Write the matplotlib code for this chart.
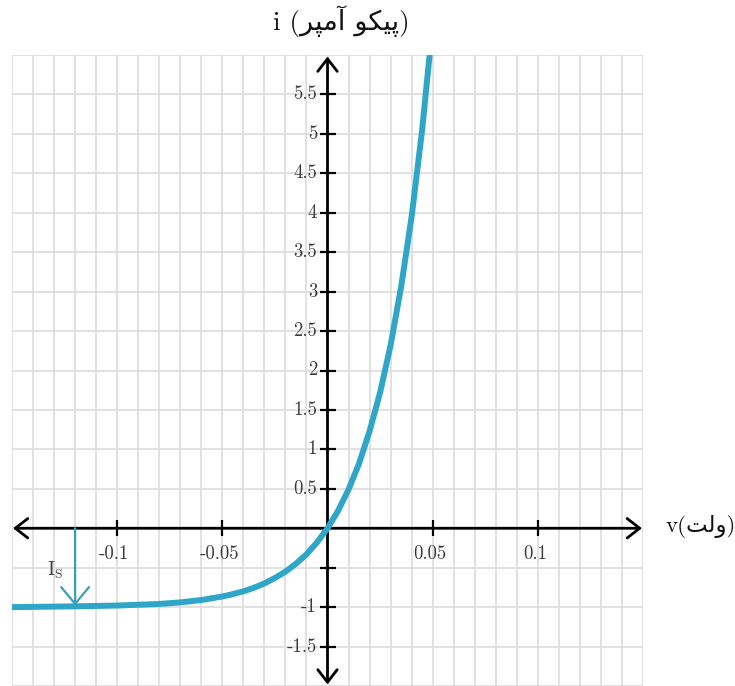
import matplotlib
matplotlib.use("Agg")
import matplotlib.pyplot as plt
import numpy as np

# Diode current (pA) against voltage (V)
voltage = [-0.15, -0.12, -0.10, -0.09, -0.08, -0.07, -0.06, -0.05, -0.045, -0.04,
           -0.035, -0.03, -0.025, -0.02, -0.015, -0.01, -0.005, 0.0, 0.005, 0.01,
           0.015, 0.02, 0.025, 0.03, 0.035, 0.04, 0.045, 0.05]
current = [-1.00, -0.99, -0.98, -0.97, -0.96, -0.94, -0.91, -0.865, -0.835, -0.80,
           -0.755, -0.70, -0.63, -0.55, -0.45, -0.33, -0.18, 0.0, 0.22, 0.49,
           0.82, 1.23, 1.72, 2.32, 3.06, 3.95, 5.05, 6.39]

x_ticks = [-0.1, -0.05, 0.05, 0.1]
x_tick_labels = ["-0.1", "-0.05", "0.05", "0.1"]
y_ticks = [-1.5, -1.0, -0.5, 0.5, 1.0, 1.5, 2.0, 2.5, 3.0, 3.5, 4.0, 4.5, 5.0, 5.5]
y_tick_labels = ["-1.5", "-1", "", "0.5", "1", "1.5", "2", "2.5", "3", "3.5",
                 "4", "4.5", "5", "5.5"]

is_voltage = -0.12
is_current = -1.0

x_min, x_max = -0.15, 0.15
y_min, y_max = -2.0, 6.0

# Contextual Arabic-script forms (isolated, final, initial, medial)
FORMS = {
    "پ": ("\uFB56", "\uFB57", "\uFB58", "\uFB59"),
    "ی": ("\uFBFC", "\uFBFD", "\uFBFE", "\uFBFF"),
    "ک": ("\uFB8E", "\uFB8F", "\uFB90", "\uFB91"),
    "و": ("\uFEED", "\uFEEE", None, None),
    "آ": ("\uFE81", "\uFE82", None, None),
    "م": ("\uFEE1", "\uFEE2", "\uFEE3", "\uFEE4"),
    "ر": ("\uFEAD", "\uFEAE", None, None),
    "ل": ("\uFEDD", "\uFEDE", "\uFEDF", "\uFEE0"),
    "ت": ("\uFE95", "\uFE96", "\uFE97", "\uFE98"),
}


def shape_rtl(text):
    out = []
    for k, ch in enumerate(text):
        if ch not in FORMS:
            out.append(ch)
            continue
        prev = text[k - 1] if k > 0 else None
        nxt = text[k + 1] if k + 1 < len(text) else None
        join_prev = prev in FORMS and FORMS[prev][2] is not None
        join_next = nxt in FORMS and FORMS[ch][2] is not None
        iso, fin, ini, med = FORMS[ch]
        if join_prev and join_next:
            out.append(med)
        elif join_prev:
            out.append(fin)
        elif join_next:
            out.append(ini)
        else:
            out.append(iso)
    return "".join(reversed(out))


W, H = 735, 686
fig = plt.figure(figsize=(W / 100, H / 100), dpi=100)
ax = fig.add_axes([12 / W, 0.0, 631 / W, 631 / H])
ax.set_xlim(x_min, x_max)
ax.set_ylim(y_min, y_max)
ax.axis("off")

grid_color = "#dedede"
for gx in np.arange(-15, 16) / 100:
    ax.plot([gx, gx], [y_min, y_max], color=grid_color, lw=1.3, zorder=0,
            solid_capstyle="butt")
for gy in np.arange(-4, 13) / 2:
    ax.plot([x_min, x_max], [gy, gy], color=grid_color, lw=1.3, zorder=0,
            solid_capstyle="butt")

# Axes with arrowheads at both ends
arrow_kw = dict(arrowstyle="<->,head_length=0.45,head_width=0.35", color="black",
                lw=2.0, mutation_scale=20, shrinkA=0, shrinkB=0)
ax.annotate("", xy=(x_max - 0.0005, 0), xytext=(x_min + 0.0005, 0),
            arrowprops=arrow_kw, zorder=3)
ax.annotate("", xy=(0, y_max - 0.02), xytext=(0, y_min + 0.02),
            arrowprops=arrow_kw, zorder=3)

tick_font = dict(family="cmr10", size=13.5, color="#3a3a3a")
ax.plot(x_ticks, [0] * len(x_ticks), ls="none", marker="|", ms=12, mew=1.6,
        color="black", zorder=3)
for xv, lab in zip(x_ticks, x_tick_labels):
    ax.annotate(lab, (xv, 0), xytext=(-2, -18.5), textcoords="offset points",
                ha="center", va="center", **tick_font)
ax.plot([0] * len(y_ticks), y_ticks, ls="none", marker="_", ms=12, mew=1.6,
        color="black", zorder=3)
for yv, lab in zip(y_ticks, y_tick_labels):
    if lab:
        ax.annotate(lab, (0, yv), xytext=(-7.5, 0), textcoords="offset points",
                    ha="right", va="center", **tick_font)

# Characteristic curve
ax.plot(voltage, current, color="#2fa6c8", lw=4.3, zorder=4,
        solid_capstyle="butt")

# Saturation current marker
ax.annotate("", xy=(is_voltage, is_current + 0.02), xytext=(is_voltage, 0),
            arrowprops=dict(arrowstyle="->,head_length=0.6,head_width=0.5",
                            color="#3a9fb4", lw=1.6, mutation_scale=20,
                            shrinkA=0, shrinkB=0), zorder=5)
plt.rcParams["mathtext.fontset"] = "cm"
ax.annotate(r"$\mathrm{I_S}$", (is_voltage, -0.53), xytext=(-14, 0),
            textcoords="offset points", ha="center", va="center",
            fontsize=14, color="#444444")

label_family = ["cmr10", "DejaVu Sans"]
fig.text(341 / W, 1 - 21 / H, "i (" + shape_rtl("پیکو آمپر") + ")",
         ha="center", va="center", fontsize=19.5, family=label_family,
         color="#111111")
fig.text(666 / W, 1 - 527 / H, "v(" + shape_rtl("ولت") + ")",
         ha="left", va="center", fontsize=16.5, family=label_family,
         color="#111111")

fig.savefig("out.png", dpi=100, facecolor="white")
